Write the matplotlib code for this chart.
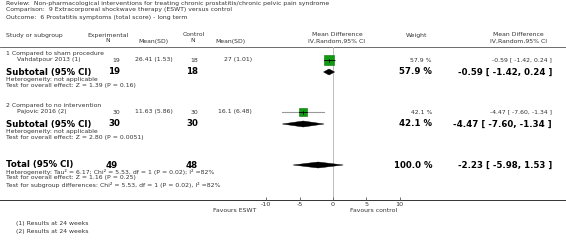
import matplotlib
matplotlib.use("Agg")
import matplotlib.pyplot as plt
from matplotlib.patches import Polygon, Rectangle

# data
groups = ["1 Compared to sham procedure", "2 Compared to no intervention"]
studies = ["Vahdatpour 2013 (1)", "Pajovic 2016 (2)"]
exp_n = [19, 30]
exp_mean = ["26.41", "11.63"]
exp_sd = ["1.53", "5.86"]
ctl_n = [18, 30]
ctl_mean = ["27", "16.1"]
ctl_sd = ["1.01", "6.48"]
md = [-0.59, -4.47]
ci_lo = [-1.42, -7.60]
ci_hi = [0.24, -1.34]
weights = [57.9, 42.1]
sub_tests = ["Test for overall effect: Z = 1.39 (P = 0.16)",
             "Test for overall effect: Z = 2.80 (P = 0.0051)"]
total_md, total_lo, total_hi = -2.23, -5.98, 1.53
x_ticks = [-10, -5, 0, 5, 10]
footnotes = ["(1) Results at 24 weeks", "(2) Results at 24 weeks"]

W, H = 566, 244
PX = 6.67      # pixels per unit of mean difference
X0 = 333       # pixel position of zero
Y_AX = 200     # pixel row of the axis line
Y_TOP = 47
L = 6          # left margin

fig = plt.figure(figsize=(W / 100, H / 100), dpi=100)
ax = fig.add_axes([0, 0, 1, 1])
ax.set_xlim(0, W)
ax.set_ylim(H, 0)
ax.axis("off")

fa = fig.add_axes([(X0 - 20 * PX) / W, 1 - Y_AX / H, 40 * PX / W, (Y_AX - Y_TOP) / H])
fa.set_xlim(-20, 20)
fa.set_ylim(Y_AX, Y_TOP)
fa.patch.set_alpha(0)
for s in fa.spines.values():
    s.set_visible(False)
fa.set_yticks([])
fa.set_xticks(x_ticks)
fa.set_xticklabels([str(t) for t in x_ticks])
fa.tick_params(axis="x", direction="in", length=2, width=0.6, color="#555555",
               labelsize=4.6, pad=1.5, labelcolor="#333333")

FS = 4.4
FB = 6.2
TC = "#333333"


def t(x, y, s, ha="left", bold=False, size=None):
    ax.text(x, y, s, ha=ha, va="center", color=TC if not bold else "black",
            fontsize=size or (FB if bold else FS), fontweight="bold" if bold else "normal")


# header block
t(L, 4, "Review:  Non-pharmacological interventions for treating chronic prostatitis/chronic pelvic pain syndrome")
t(L, 10, "Comparison:  9 Extracorporeal shockwave therapy (ESWT) versus control")
t(L, 17, "Outcome:  6 Prostatitis symptoms (total score) - long term")

t(L, 35, "Study or subgroup")
t(108, 35, "Experimental", ha="center")
t(108, 41, "N", ha="center")
t(153, 41, "Mean(SD)", ha="center")
t(194, 35, "Control", ha="center")
t(193, 41, "N", ha="center")
t(230, 41, "Mean(SD)", ha="center")
t(337, 35, "Mean Difference", ha="center")
t(337, 41, "IV,Random,95% CI", ha="center")
t(417, 35, "Weight", ha="center")
t(518, 35, "Mean Difference", ha="center")
t(518, 41, "IV,Random,95% CI", ha="center")
ax.plot([0, W], [46.5, 46.5], color="#555555", lw=0.6)

row_study = [60, 112]
row_group = [54, 106]
row_sub = [72, 124]
fa.axvline(0, color="#bbbbbb", lw=0.7, zorder=0)

for i in range(2):
    y = row_study[i]
    t(L, row_group[i], groups[i])
    t(L + 11, y, studies[i])
    t(120, y, str(exp_n[i]), ha="right")
    t(173, y, f"{exp_mean[i]} ({exp_sd[i]})", ha="right")
    t(198, y, str(ctl_n[i]), ha="right")
    t(252, y, f"{ctl_mean[i]} ({ctl_sd[i]})", ha="right")
    t(432, y, f"{weights[i]:.1f} %", ha="right")
    t(552, y, f"{md[i]:.2f} [ {ci_lo[i]:.2f}, {ci_hi[i]:.2f} ]", ha="right")

    # study marker
    fa.plot([ci_lo[i], ci_hi[i]], [y, y], color="#999999", lw=0.8, zorder=1)
    side = 2 + weights[i] * 0.15
    w_units = side / PX
    fa.add_patch(Rectangle((md[i] - w_units / 2, y - side / 2), w_units, side,
                           facecolor="#109a10", edgecolor="#0a700a", lw=0.4, zorder=2))
    a, b = max(ci_lo[i], md[i] - w_units / 2), min(ci_hi[i], md[i] + w_units / 2)
    fa.plot([a, b], [y, y], color="black", lw=0.6, zorder=3)
    fa.plot([md[i], md[i]], [y - 1.5, y + 1.5], color="black", lw=0.6, zorder=3)

    # subtotal
    ys = row_sub[i]
    t(L, ys, "Subtotal (95% CI)", bold=True)
    t(120, ys, str(exp_n[i]), ha="right", bold=True)
    t(198, ys, str(ctl_n[i]), ha="right", bold=True)
    t(432, ys, f"{weights[i]:.1f} %", ha="right", bold=True)
    t(552, ys, f"{md[i]:.2f} [ {ci_lo[i]:.2f}, {ci_hi[i]:.2f} ]", ha="right", bold=True)
    t(L, ys + 8, "Heterogeneity: not applicable")
    t(L, ys + 14, sub_tests[i])
    fa.add_patch(Polygon([(ci_lo[i], ys), (md[i], ys - 3), (ci_hi[i], ys), (md[i], ys + 3)],
                         closed=True, facecolor="black", edgecolor="black", lw=0.3, zorder=2))

# total
yt = 165
t(L, yt, "Total (95% CI)", bold=True)
t(118, yt, str(sum(exp_n)), ha="right", bold=True)
t(198, yt, str(sum(ctl_n)), ha="right", bold=True)
t(432, yt, f"{sum(weights):.1f} %", ha="right", bold=True)
t(552, yt, f"{total_md:.2f} [ {total_lo:.2f}, {total_hi:.2f} ]", ha="right", bold=True)
t(L, yt + 7, "Heterogeneity: Tau\u00b2 = 6.17; Chi\u00b2 = 5.53, df = 1 (P = 0.02); I\u00b2 =82%")
t(L, yt + 13, "Test for overall effect: Z = 1.16 (P = 0.25)")
t(L, yt + 20, "Test for subgroup differences: Chi\u00b2 = 5.53, df = 1 (P = 0.02), I\u00b2 =82%")
fa.add_patch(Polygon([(total_lo, yt), (total_md, yt - 3), (total_hi, yt), (total_md, yt + 3)],
                     closed=True, facecolor="black", edgecolor="black", lw=0.3, zorder=2))

# axis line and favours labels
ax.plot([0, W], [Y_AX, Y_AX], color="#333333", lw=0.7)
t(256, 211, "Favours ESWT", ha="right")
t(350, 211, "Favours control")

t(L + 10, 223, footnotes[0])
t(L + 10, 232, footnotes[1])

fig.savefig("out.png", dpi=100)
